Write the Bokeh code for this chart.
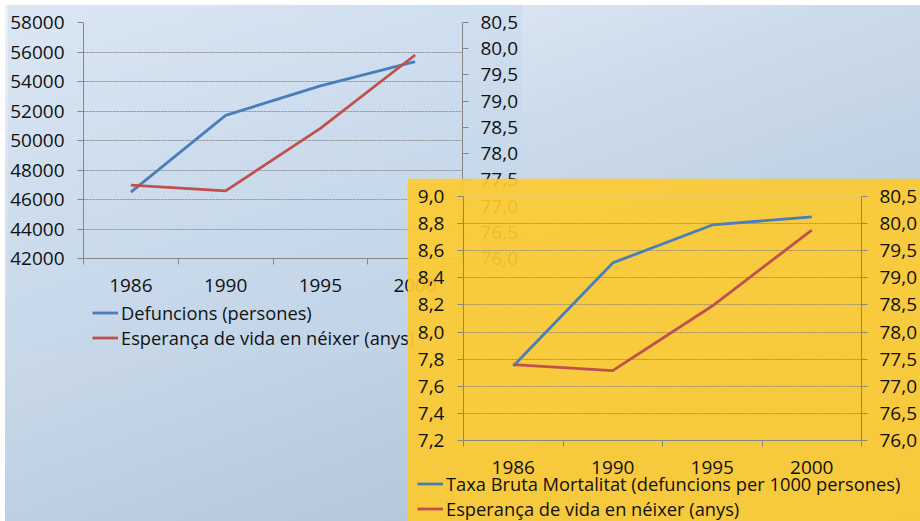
from bokeh.plotting import figure
from bokeh.models import (Range1d, LinearAxis, FixedTicker, CustomJSTickFormatter,
                          Legend, LegendItem, ColumnDataSource, Div)
from bokeh.embed import file_html
from bokeh.resources import INLINE

# ---------------- data ----------------
years = ["1986", "1990", "1995", "2000"]
defuncions = [46500, 51700, 53700, 55350]          # persones
esperanca = [77.40, 77.29, 78.48, 79.88]           # anys
taxa = [7.75, 8.51, 8.79, 8.85]                    # per 1000 persones

def_ticks = [42000, 44000, 46000, 48000, 50000, 52000, 54000, 56000, 58000]
esp_ticks = [76.0, 76.5, 77.0, 77.5, 78.0, 78.5, 79.0, 79.5, 80.0, 80.5]
taxa_ticks = [7.2, 7.4, 7.6, 7.8, 8.0, 8.2, 8.4, 8.6, 8.8, 9.0]

label_def = "Defuncions (persones)"
label_esp = "Esperança de vida en néixer (anys)"
label_taxa = "Taxa Bruta Mortalitat (defuncions per 1000 persones)"

FONT = "Open Sans"
BLUE = "#4a7ebb"
RED = "#c0504d"
AXIS = "#868686"
GRID = "#8f8f8f"
TXT = "#111111"
TICK_SIZE = "19px"
LEG_SIZE = "18.3px"
YELLOW = "#fdca30"

xpos = [i + 0.5 for i in range(len(years))]
bounds = [float(i) for i in range(len(years) + 1)]

src = ColumnDataSource(dict(x=xpos, defuncions=defuncions, esperanca=esperanca, taxa=taxa))

comma_fmt = CustomJSTickFormatter(code="return tick.toFixed(1).replace('.', ',');")
int_fmt = CustomJSTickFormatter(code="return tick.toFixed(0);")
year_fmt = CustomJSTickFormatter(args=dict(labels=years),
                                 code="return labels[Math.floor(tick)];")


def style_axis(ax, standoff=12):
    ax.axis_line_color = AXIS
    ax.major_tick_line_color = AXIS
    ax.major_tick_out = 6
    ax.major_tick_in = 0
    ax.minor_tick_line_color = None
    ax.major_label_text_font = FONT
    ax.major_label_text_font_size = TICK_SIZE
    ax.major_label_text_color = TXT
    ax.major_label_standoff = standoff


def style_xaxis(ax):
    ax.ticker = FixedTicker(ticks=xpos, minor_ticks=bounds)
    ax.formatter = year_fmt
    ax.axis_line_color = AXIS
    ax.major_tick_line_color = None
    ax.major_tick_out = 0
    ax.major_tick_in = 0
    ax.minor_tick_line_color = AXIS
    ax.minor_tick_out = 6
    ax.minor_tick_in = 0
    ax.major_label_text_font = FONT
    ax.major_label_text_font_size = TICK_SIZE
    ax.major_label_text_color = TXT
    ax.major_label_standoff = 14


def legend_fig(w, h, entries, row_h):
    # entries: (label, y column, colour); the series lie outside this
    # figure's (0..1) y range, so only the legend swatches show.
    lf = figure(width=w, height=h, x_range=Range1d(0, 1), y_range=Range1d(0, 1),
                output_backend="svg", toolbar_location=None,
                x_axis_type=None, y_axis_type=None,
                min_border=0, min_border_left=0, min_border_right=0,
                min_border_top=0, min_border_bottom=0)
    lf.border_fill_alpha = 0
    lf.background_fill_alpha = 0
    lf.outline_line_color = None
    lf.grid.visible = False
    items = []
    for lab, col_name, colour in entries:
        r = lf.line("x", col_name, source=src, color=colour, line_width=2.8)
        items.append(LegendItem(label=lab, renderers=[r]))
    lg = Legend(items=items, location="top_left", orientation="vertical",
                background_fill_alpha=0, border_line_color=None,
                padding=0, margin=0, spacing=0,
                glyph_width=26, glyph_height=row_h, label_height=row_h,
                label_standoff=3,
                label_text_font=FONT, label_text_font_size=LEG_SIZE,
                label_text_color=TXT)
    lf.add_layout(lg)
    return lf


# ---------------- chart 1 (top-left, translucent blue panel) ----------------
p1 = figure(width=515, height=348, x_range=Range1d(0, 4),
            y_range=Range1d(def_ticks[0], def_ticks[-1]),
            output_backend="svg", toolbar_location=None,
            min_border_left=75, min_border_right=60,
            min_border_top=18, min_border_bottom=94)
p1.extra_y_ranges = {"esp": Range1d(esp_ticks[0], esp_ticks[-1])}
p1.border_fill_color = "#c4d6ec"
p1.border_fill_alpha = 0.45
p1.background_fill_color = "#c4d6ec"
p1.background_fill_alpha = 0.45
p1.outline_line_color = None

style_axis(p1.yaxis[0], 13)
p1.yaxis[0].ticker = FixedTicker(ticks=def_ticks)
p1.yaxis[0].formatter = int_fmt
ax1r = LinearAxis(y_range_name="esp", ticker=FixedTicker(ticks=esp_ticks), formatter=comma_fmt)
style_axis(ax1r, 12)
p1.add_layout(ax1r, "right")
style_xaxis(p1.xaxis[0])

p1.xgrid.grid_line_color = None
p1.ygrid.ticker = FixedTicker(ticks=def_ticks)
p1.ygrid.grid_line_color = GRID
p1.ygrid.grid_line_dash = "2 1"
p1.ygrid.grid_line_width = 1

p1.line("x", "defuncions", source=src, color=BLUE, line_width=2.8)
p1.line("x", "esperanca", source=src, color=RED, line_width=2.8, y_range_name="esp")

leg1 = legend_fig(330, 50, [(label_def, "defuncions", BLUE),
                            (label_esp, "esperanca", RED)], 25)

# ---------------- chart 2 (yellow panel, bottom-right) ----------------
p2 = figure(width=513, height=343, x_range=Range1d(0, 4),
            y_range=Range1d(taxa_ticks[0], taxa_ticks[-1]),
            output_backend="svg", toolbar_location=None,
            min_border_left=56, min_border_right=57,
            min_border_top=18, min_border_bottom=81)
p2.extra_y_ranges = {"esp": Range1d(esp_ticks[0], esp_ticks[-1])}
p2.border_fill_color = YELLOW
p2.border_fill_alpha = 0.92
p2.background_fill_color = YELLOW
p2.background_fill_alpha = 0.92
p2.outline_line_color = None

style_axis(p2.yaxis[0], 13)
p2.yaxis[0].ticker = FixedTicker(ticks=taxa_ticks)
p2.yaxis[0].formatter = comma_fmt
ax2r = LinearAxis(y_range_name="esp", ticker=FixedTicker(ticks=esp_ticks), formatter=comma_fmt)
style_axis(ax2r, 12)
p2.add_layout(ax2r, "right")
style_xaxis(p2.xaxis[0])

p2.xgrid.grid_line_color = None
p2.ygrid.ticker = FixedTicker(ticks=taxa_ticks)
p2.ygrid.grid_line_color = "#9a8f70"
p2.ygrid.grid_line_dash = "2 1"
p2.ygrid.grid_line_width = 1

p2.line("x", "taxa", source=src, color=BLUE, line_width=2.8)
p2.line("x", "esperanca", source=src, color=RED, line_width=2.8, y_range_name="esp")

leg2 = legend_fig(500, 50, [(label_taxa, "taxa", BLUE),
                            (label_esp, "esperanca", RED)], 25)

# ---------------- page composition (independent roots, no frame alignment) ----
bg = Div(text="", width=920, height=521,
         styles={"position": "absolute", "left": "0px", "top": "0px",
                 "background": "linear-gradient(160deg, #eef3f9 0%, #cddcec 35%, #b8cbdf 70%, #aabdd3 100%)"})
p1.styles = {"position": "absolute", "left": "7px", "top": "4px"}
leg1.styles = {"position": "absolute", "left": "92px", "top": "300px"}
p2.styles = {"position": "absolute", "left": "407px", "top": "178px"}
leg2.styles = {"position": "absolute", "left": "417px", "top": "471px"}

open("out.html", "w").write(file_html([bg, p1, leg1, p2, leg2], INLINE))
